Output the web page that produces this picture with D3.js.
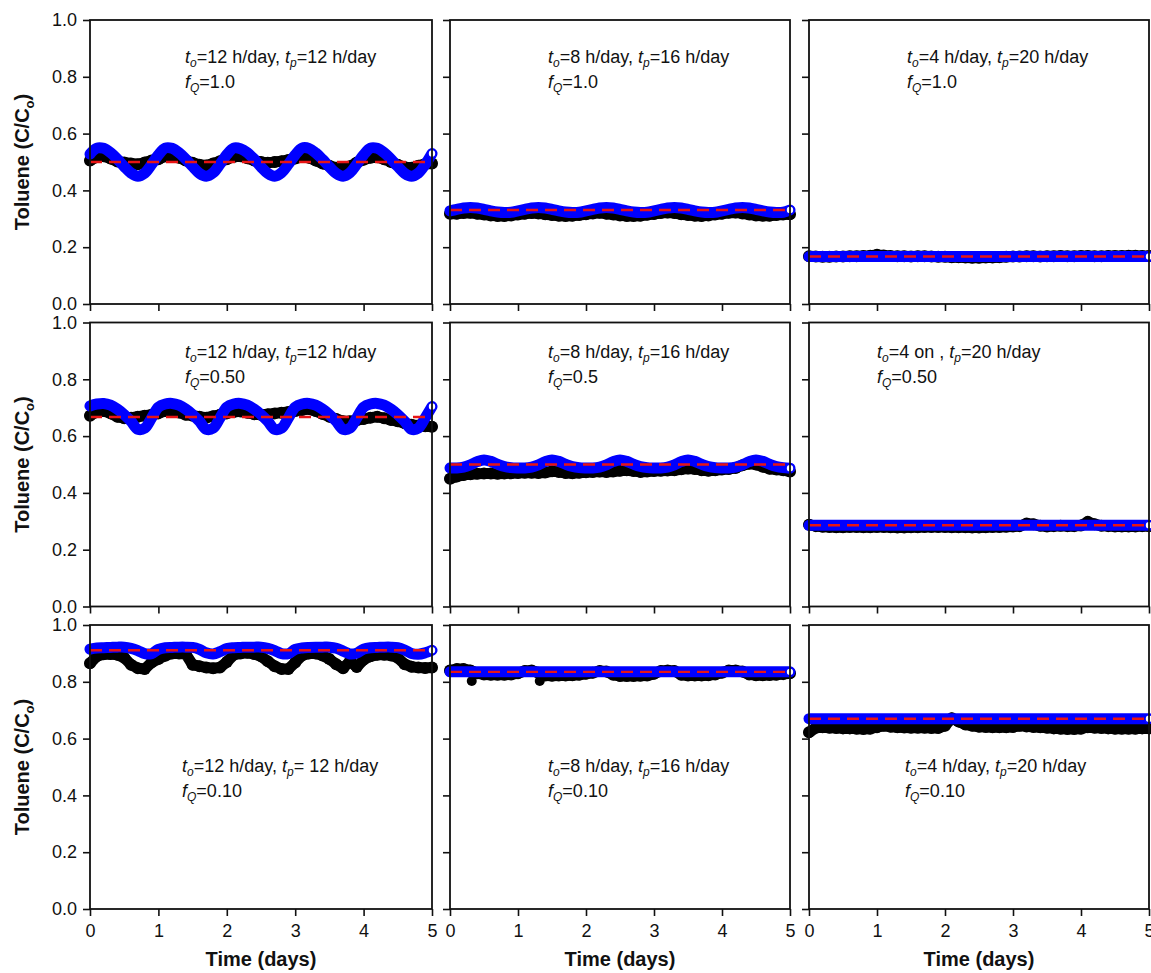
<!DOCTYPE html>
<html>
<head>
<meta charset="utf-8">
<script src="https://cdn.jsdelivr.net/npm/d3@7"></script>
<style>
  body { margin: 0; background: #fff; }
  svg { display: block; }
  text { font-family: "Liberation Sans", Arial, sans-serif; fill: #111; }
</style>
</head>
<body>
<svg id="chart" width="1151" height="973"></svg>
<script>
// ---- Panel conditions (row-major: rows = fQ, columns = on/off schedule) ----
const onText  = ["12 h/day", "8 h/day", "4 h/day", "12 h/day", "8 h/day", "4 on ", "12 h/day", "8 h/day", "4 h/day"];
const offText = ["12 h/day", "16 h/day", "20 h/day", "12 h/day", "16 h/day", "20 h/day", " 12 h/day", "16 h/day", "20 h/day"];
const fqText  = ["1.0", "1.0", "1.0", "0.50", "0.5", "0.50", "0.10", "0.10", "0.10"];

// ---- Axis ticks ----
const yTicks = [0, 0.2, 0.4, 0.6, 0.8, 1.0];
const xTicks = [0, 1, 2, 3, 4, 5];

// ---- Steady-state prediction (dashed line) per panel ----
const steady = [0.500, 0.331, 0.167, 0.667, 0.500, 0.286, 0.911, 0.835, 0.670];

// ---- Measured toluene, C/Co, sampled evenly over 0–5 days ----
const obsR1C1 = [0.505,0.518,0.520,0.512,0.502,0.498,0.495,0.492,0.498,0.505,
                 0.510,0.520,0.522,0.515,0.505,0.497,0.490,0.488,0.495,0.503,
                 0.510,0.518,0.520,0.513,0.505,0.500,0.497,0.500,0.503,0.507,
                 0.512,0.518,0.515,0.505,0.495,0.487,0.480,0.478,0.485,0.498,
                 0.508,0.515,0.517,0.510,0.500,0.490,0.482,0.480,0.487,0.493,0.495];
const obsR1C2 = [0.318,0.318,0.320,0.321,0.318,0.315,0.312,0.310,0.310,0.312,
                 0.315,0.318,0.320,0.319,0.316,0.313,0.311,0.310,0.311,0.313,
                 0.316,0.319,0.321,0.318,0.315,0.312,0.310,0.310,0.311,0.314,
                 0.317,0.320,0.322,0.320,0.316,0.313,0.311,0.310,0.312,0.315,
                 0.318,0.321,0.322,0.319,0.315,0.312,0.311,0.311,0.313,0.315,0.316];
const obsR1C3 = [0.168,0.167,0.166,0.166,0.167,0.167,0.168,0.168,0.169,0.170,
                 0.173,0.171,0.169,0.168,0.168,0.167,0.168,0.168,0.167,0.166,
                 0.166,0.165,0.165,0.164,0.163,0.163,0.164,0.164,0.165,0.166,
                 0.167,0.167,0.168,0.168,0.167,0.168,0.168,0.169,0.168,0.168,
                 0.169,0.169,0.168,0.168,0.169,0.169,0.169,0.170,0.170,0.169,0.169];
const obsR2C1 = [0.672,0.685,0.688,0.680,0.668,0.663,0.665,0.668,0.672,0.675,
                 0.680,0.688,0.690,0.683,0.675,0.672,0.668,0.665,0.670,0.675,
                 0.680,0.685,0.687,0.682,0.677,0.675,0.677,0.680,0.682,0.685,
                 0.688,0.692,0.695,0.688,0.678,0.668,0.660,0.652,0.652,0.656,
                 0.660,0.665,0.668,0.663,0.657,0.652,0.645,0.640,0.637,0.635,0.633];
const obsR2C2 = [0.450,0.458,0.463,0.466,0.467,0.468,0.468,0.467,0.468,0.469,
                 0.470,0.471,0.471,0.470,0.472,0.476,0.474,0.470,0.469,0.471,
                 0.473,0.474,0.475,0.474,0.475,0.478,0.480,0.477,0.474,0.475,
                 0.477,0.478,0.479,0.480,0.483,0.486,0.484,0.480,0.478,0.480,
                 0.482,0.484,0.488,0.497,0.503,0.500,0.492,0.485,0.482,0.480,0.475];
const obsR2C3 = [0.288,0.283,0.281,0.280,0.279,0.279,0.280,0.280,0.279,0.279,
                 0.280,0.280,0.279,0.278,0.278,0.279,0.279,0.280,0.280,0.280,
                 0.280,0.279,0.279,0.279,0.278,0.278,0.279,0.280,0.280,0.281,
                 0.282,0.283,0.292,0.290,0.284,0.282,0.283,0.284,0.283,0.283,
                 0.285,0.298,0.290,0.284,0.283,0.282,0.282,0.282,0.282,0.283,0.283];
const obsR3C1 = [0.865,0.890,0.897,0.898,0.895,0.885,0.860,0.848,0.845,0.868,
                 0.880,0.892,0.900,0.900,0.898,0.860,0.855,0.850,0.848,0.850,
                 0.870,0.895,0.900,0.902,0.898,0.890,0.872,0.855,0.845,0.845,
                 0.868,0.893,0.900,0.900,0.893,0.880,0.862,0.848,0.872,0.852,
                 0.878,0.890,0.895,0.895,0.893,0.885,0.862,0.853,0.850,0.849,0.850];
const obsR3C2 = [0.840,0.845,0.845,0.840,0.830,0.826,0.825,0.825,0.825,0.826,
                 0.830,0.838,0.840,0.832,0.822,0.821,0.822,0.822,0.823,0.825,
                 0.828,0.832,0.838,0.836,0.825,0.820,0.820,0.820,0.821,0.822,
                 0.828,0.838,0.840,0.838,0.825,0.822,0.822,0.822,0.823,0.826,
                 0.832,0.840,0.840,0.836,0.826,0.823,0.823,0.824,0.825,0.827,0.830];
const obsR3C3 = [0.622,0.638,0.640,0.638,0.637,0.636,0.636,0.635,0.634,0.635,
                 0.640,0.645,0.642,0.640,0.639,0.638,0.638,0.638,0.637,0.637,
                 0.645,0.672,0.660,0.650,0.645,0.642,0.641,0.640,0.640,0.640,
                 0.641,0.645,0.643,0.641,0.640,0.638,0.636,0.635,0.634,0.634,
                 0.635,0.640,0.638,0.637,0.636,0.635,0.635,0.635,0.635,0.636,0.636];
// stray low readings in the 8 h/day, fQ = 0.10 run
const strayDays = [0.32, 1.32];
const strayVals = [0.803, 0.803];

// ---- Model prediction, C/Co, sampled evenly over 0–5 days ----
const modR1C1 = [0.528,0.549,0.548,0.533,0.510,0.484,0.461,0.450,0.461,0.491,
                 0.525,0.549,0.548,0.533,0.510,0.484,0.460,0.450,0.462,0.492,
                 0.526,0.549,0.547,0.533,0.510,0.483,0.460,0.450,0.462,0.492,
                 0.525,0.549,0.548,0.532,0.509,0.483,0.460,0.450,0.462,0.492,
                 0.525,0.549,0.548,0.533,0.510,0.484,0.460,0.450,0.461,0.491,0.530];
const modR1C2 = [0.328,0.333,0.338,0.340,0.338,0.333,0.328,0.324,0.322,0.323,
                 0.328,0.333,0.338,0.340,0.338,0.333,0.328,0.324,0.322,0.323,
                 0.328,0.333,0.338,0.340,0.338,0.333,0.328,0.324,0.322,0.323,
                 0.328,0.333,0.338,0.340,0.338,0.333,0.328,0.324,0.322,0.323,
                 0.328,0.333,0.338,0.340,0.338,0.333,0.328,0.324,0.322,0.323,0.331];
const modR1C3 = [0.167,0.167,0.167,0.167,0.167,0.167,0.167,0.167,0.167,0.167,0.167];
const modR2C1 = [0.706,0.713,0.715,0.709,0.695,0.676,0.652,0.624,0.628,0.664,
                 0.702,0.713,0.715,0.709,0.695,0.676,0.652,0.624,0.628,0.664,
                 0.702,0.713,0.715,0.709,0.695,0.676,0.652,0.624,0.628,0.664,
                 0.702,0.713,0.715,0.709,0.695,0.676,0.652,0.624,0.628,0.664,
                 0.702,0.713,0.715,0.709,0.695,0.676,0.652,0.624,0.628,0.664,0.704];
const modR2C2 = [0.488,0.488,0.491,0.499,0.510,0.516,0.511,0.501,0.493,0.489,
                 0.488,0.488,0.491,0.499,0.510,0.516,0.511,0.501,0.493,0.489,
                 0.488,0.488,0.491,0.499,0.510,0.516,0.511,0.501,0.493,0.489,
                 0.488,0.488,0.491,0.499,0.510,0.516,0.511,0.501,0.493,0.489,
                 0.488,0.488,0.491,0.499,0.510,0.516,0.511,0.501,0.493,0.489,0.487];
const modR2C3 = [0.286,0.286,0.286,0.286,0.286,0.286,0.286,0.286,0.286,0.286,0.286];
const modR3C1 = [0.915,0.919,0.920,0.921,0.922,0.922,0.918,0.910,0.899,0.899,
                 0.914,0.920,0.921,0.922,0.922,0.921,0.914,0.902,0.898,0.906,
                 0.917,0.920,0.921,0.922,0.922,0.922,0.918,0.910,0.899,0.899,
                 0.914,0.919,0.921,0.922,0.922,0.922,0.918,0.908,0.898,0.901,
                 0.915,0.920,0.921,0.922,0.922,0.920,0.912,0.900,0.897,0.902,0.911];
const modR3C2 = [0.835,0.835,0.835,0.835,0.835,0.835,0.835,0.835,0.835,0.835,0.835];
const modR3C3 = [0.670,0.670,0.670,0.670,0.670,0.670,0.670,0.670,0.670,0.670,0.670];

const measured = [obsR1C1, obsR1C2, obsR1C3, obsR2C1, obsR2C2, obsR2C3, obsR3C1, obsR3C2, obsR3C3];
const modelled = [modR1C1, modR1C2, modR1C3, modR2C1, modR2C2, modR2C3, modR3C1, modR3C2, modR3C3];

// ---- Layout ----
const colLeft   = [90, 450, 809];
const colRight  = [432, 790, 1149];
const rowTop    = [20, 322.5, 625];
const rowBottom = [304, 606.5, 909];
// annotation placement: x from panel left, baselines from panel top
const noteX = [[95, 98, 98], [95, 98, 68], [92, 98, 96]];
const noteY = [43, 35, 147];

const svg = d3.select("#chart");
const BLUE = "#0000ff", RED = "#e81414";

// turn an evenly sampled series into [day, value] pairs
const asPoints = vals => vals.map((v, i) => [5 * i / (vals.length - 1), v]);

for (let r = 0; r < 3; r++) {
  for (let c = 0; c < 3; c++) {
    const k = r * 3 + c;
    const x = d3.scaleLinear().domain([0, 5]).range([colLeft[c], colRight[c]]);
    const y = d3.scaleLinear().domain([0, 1]).range([rowBottom[r], rowTop[r]]);
    const g = svg.append("g");

    // measured data: dense filled black circles
    const obs = asPoints(measured[k]);
    g.append("path")
      .datum(obs)
      .attr("d", d3.line().x(d => x(d[0])).y(d => y(d[1])))
      .attr("fill", "none").attr("stroke", "#000")
      .attr("stroke-width", 11).attr("stroke-linejoin", "round").attr("stroke-linecap", "round");
    g.selectAll("circle.obs").data(obs).join("circle")
      .attr("class", "obs")
      .attr("cx", d => x(d[0])).attr("cy", d => y(d[1])).attr("r", 6)
      .attr("fill", "#000");
    if (k === 7) {
      g.selectAll("circle.stray").data(strayDays).join("circle")
        .attr("class", "stray")
        .attr("cx", d => x(d)).attr("cy", (d, i) => y(strayVals[i])).attr("r", 5)
        .attr("fill", "#000");
    }

    // model prediction: dense open blue circles
    const mod = asPoints(modelled[k]);
    g.append("path")
      .datum(mod)
      .attr("d", d3.line().x(d => x(d[0])).y(d => y(d[1])).curve(d3.curveCatmullRom))
      .attr("fill", "none").attr("stroke", BLUE)
      .attr("stroke-width", 11).attr("stroke-linejoin", "round").attr("stroke-linecap", "round");
    const last = mod[mod.length - 1];
    g.append("circle")
      .attr("cx", x(last[0])).attr("cy", y(last[1])).attr("r", 4)
      .attr("fill", "#fff").attr("stroke", BLUE).attr("stroke-width", 1.6);

    // steady-state value: red dashed line
    g.append("line")
      .attr("x1", x(0)).attr("x2", x(5))
      .attr("y1", y(steady[k])).attr("y2", y(steady[k]))
      .attr("stroke", RED).attr("stroke-width", 2.4).attr("stroke-dasharray", "12,7");

    // axes
    const yAxis = d3.axisLeft(y).tickValues(yTicks).tickSize(7).tickPadding(6).tickSizeOuter(0)
      .tickFormat(c === 0 ? d3.format(".1f") : () => "");
    const gy = g.append("g").attr("transform", `translate(${colLeft[c]},0)`).call(yAxis);
    const xAxis = d3.axisBottom(x).tickValues(xTicks).tickSize(7).tickPadding(8).tickSizeOuter(0)
      .tickFormat(r === 2 ? d3.format("d") : () => "");
    const gx = g.append("g").attr("transform", `translate(0,${rowBottom[r]})`).call(xAxis);
    [gy, gx].forEach(a => {
      a.select(".domain").remove();
      a.selectAll(".tick line").attr("stroke", "#111").attr("stroke-width", 1.6);
      a.selectAll(".tick text").attr("font-size", 18).attr("fill", "#111")
        .attr("font-family", "'Liberation Sans', Arial, sans-serif");
    });

    // frame
    g.append("rect")
      .attr("x", colLeft[c]).attr("y", rowTop[r])
      .attr("width", colRight[c] - colLeft[c]).attr("height", rowBottom[r] - rowTop[r])
      .attr("fill", "none").attr("stroke", "#111").attr("stroke-width", 1.8);

    // condition annotation
    const nx = colLeft[c] + noteX[r][c];
    const ny = rowTop[r] + noteY[r];
    const l1 = g.append("text").attr("x", nx).attr("y", ny).attr("font-size", 18);
    l1.append("tspan").attr("font-style", "italic").text("t");
    l1.append("tspan").attr("font-style", "italic").attr("font-size", 12).attr("dy", 4).text("o");
    l1.append("tspan").attr("dy", -4).text("=" + onText[k] + ", ");
    l1.append("tspan").attr("font-style", "italic").text("t");
    l1.append("tspan").attr("font-style", "italic").attr("font-size", 12).attr("dy", 4).text("p");
    l1.append("tspan").attr("dy", -4).text("=" + offText[k]);
    const l2 = g.append("text").attr("x", nx).attr("y", ny + 25).attr("font-size", 18);
    l2.append("tspan").attr("font-style", "italic").text("f");
    l2.append("tspan").attr("font-style", "italic").attr("font-size", 12).attr("dy", 4).text("Q");
    l2.append("tspan").attr("dy", -4).text("=" + fqText[k]);
  }
}

// y-axis titles
for (let r = 0; r < 3; r++) {
  const cy = (rowTop[r] + rowBottom[r]) / 2;
  const t = svg.append("text")
    .attr("transform", `translate(29,${cy}) rotate(-90)`)
    .attr("text-anchor", "middle").attr("font-size", 20).attr("font-weight", "bold");
  t.append("tspan").text("Toluene (C/C");
  t.append("tspan").attr("font-size", 13).attr("dy", 5).text("o");
  t.append("tspan").attr("dy", -5).text(")");
}
// x-axis titles
for (let c = 0; c < 3; c++) {
  svg.append("text")
    .attr("x", (colLeft[c] + colRight[c]) / 2).attr("y", 966)
    .attr("text-anchor", "middle").attr("font-size", 20).attr("font-weight", "bold")
    .text("Time (days)");
}
</script>
</body>
</html>
